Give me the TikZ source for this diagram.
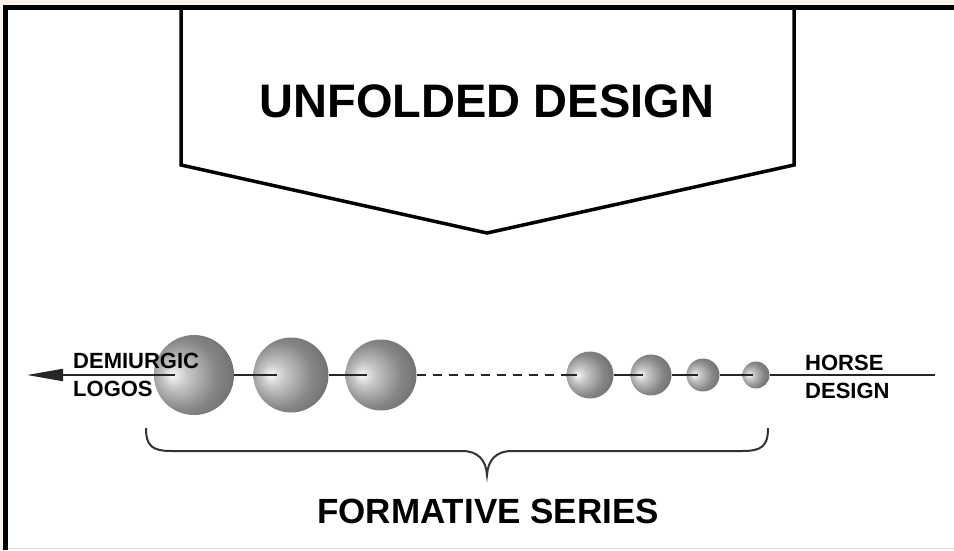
\documentclass[tikz,border=0pt]{standalone}
\usepackage{fontspec}
\setmainfont{Liberation Sans}
\usetikzlibrary{arrows.meta}
\definecolor{paper}{HTML}{FAF2E6}
\pgfdeclareradialshading{sphereshade}{\pgfpoint{-14bp}{0bp}}{%
  color(0bp)=(white!95!gray); color(8bp)=(gray!45); color(22bp)=(gray!95);
  color(36bp)=(black!60); color(50bp)=(black!70)}
\tikzset{
  bead/.style={circle, shading=sphereshade, inner sep=0pt, minimum size=#1},
  link/.style={line width=2pt, black!85},
  caption/.style={font=\bfseries, inner sep=0pt}
}
\begin{document}
\begin{tikzpicture}[x=1pt, y=-1pt]
        \useasboundingbox (0,0) rectangle (954,550);
        % Frame
        \fill[paper] (0,0) rectangle (954,550);
        \fill[white] (3,5) rectangle (954,550);
        \fill[black] (3,5) rectangle (954,10);
        \fill[black] (3,5) rectangle (8,550);
        \draw[black!12, line width=1pt] (8,548.5) -- (954,548.5);

        % Banner
        \draw[line width=3.5pt, line join=miter] (181,10) -- (181,165) -- (487,233) -- (794,165) -- (794,10);
        \node[caption, font=\fontsize{47}{50}\selectfont\bfseries, anchor=base] (title) at (487,117) {UNFOLDED DESIGN};

        % Nodes
        \node[bead=80pt] (s1) at (194,375) {};
        \node[bead=75pt] (s2) at (291,375) {};
        \node[bead=71pt] (s3) at (381,375) {};
        \node[bead=47pt] (s4) at (590,375) {};
        \node[bead=41pt] (s5) at (651,375) {};
        \node[bead=33pt] (s6) at (703,375) {};
        \node[bead=27pt] (s7) at (756,375) {};
        \coordinate (tip) at (27,375);
        \coordinate (end) at (935,375);

        % Edges
        \draw[link, -{Triangle[length=36pt, width=12pt]}] ([xshift=-19pt]s1.center) -- (tip);
        \draw[link] (s1.east) -- ([xshift=-14pt]s2.center);
        \draw[link] (s2.east) -- ([xshift=-14pt]s3.center);
        \draw[link, dash pattern=on 9pt off 7pt] (s3.east) -- ([xshift=-24pt]s4.center);
        \draw[link] ([xshift=-24pt]s4.center) -- ([xshift=-13pt]s4.center);
        \draw[link] (s4.east) -- ([xshift=-8pt]s5.center);
        \draw[link] (s5.east) -- ([xshift=-5pt]s6.center);
        \draw[link] (s6.east) -- ([xshift=-3pt]s7.center);
        \draw[link] (s7.east) -- (end);

        % Labels
        \node[caption, font=\fontsize{22}{28}\selectfont\bfseries, align=left, anchor=north west] (logos) at (73,353) {DEMIURGIC\\LOGOS};
        \node[caption, font=\fontsize{22}{28}\selectfont\bfseries, align=left, anchor=north west] (horse) at (805,355) {HORSE\\DESIGN};

        % Brace
        \coordinate (bl) at (146,428);
        \coordinate (br) at (768,428);
        \coordinate (bt) at (487,475);
        \draw[link, black!80] (bl) .. controls (146,446) and (152,451) .. (172,451) -- (462,451)
          .. controls (478,451) and (486,460) .. (bt)
          .. controls (488,460) and (496,451) .. (512,451) -- (742,451)
          .. controls (762,451) and (768,446) .. (br);
        \node[caption, font=\fontsize{35}{38}\selectfont\bfseries, anchor=base] (series) at (488,523) {FORMATIVE SERIES};
\end{tikzpicture}
\end{document}
